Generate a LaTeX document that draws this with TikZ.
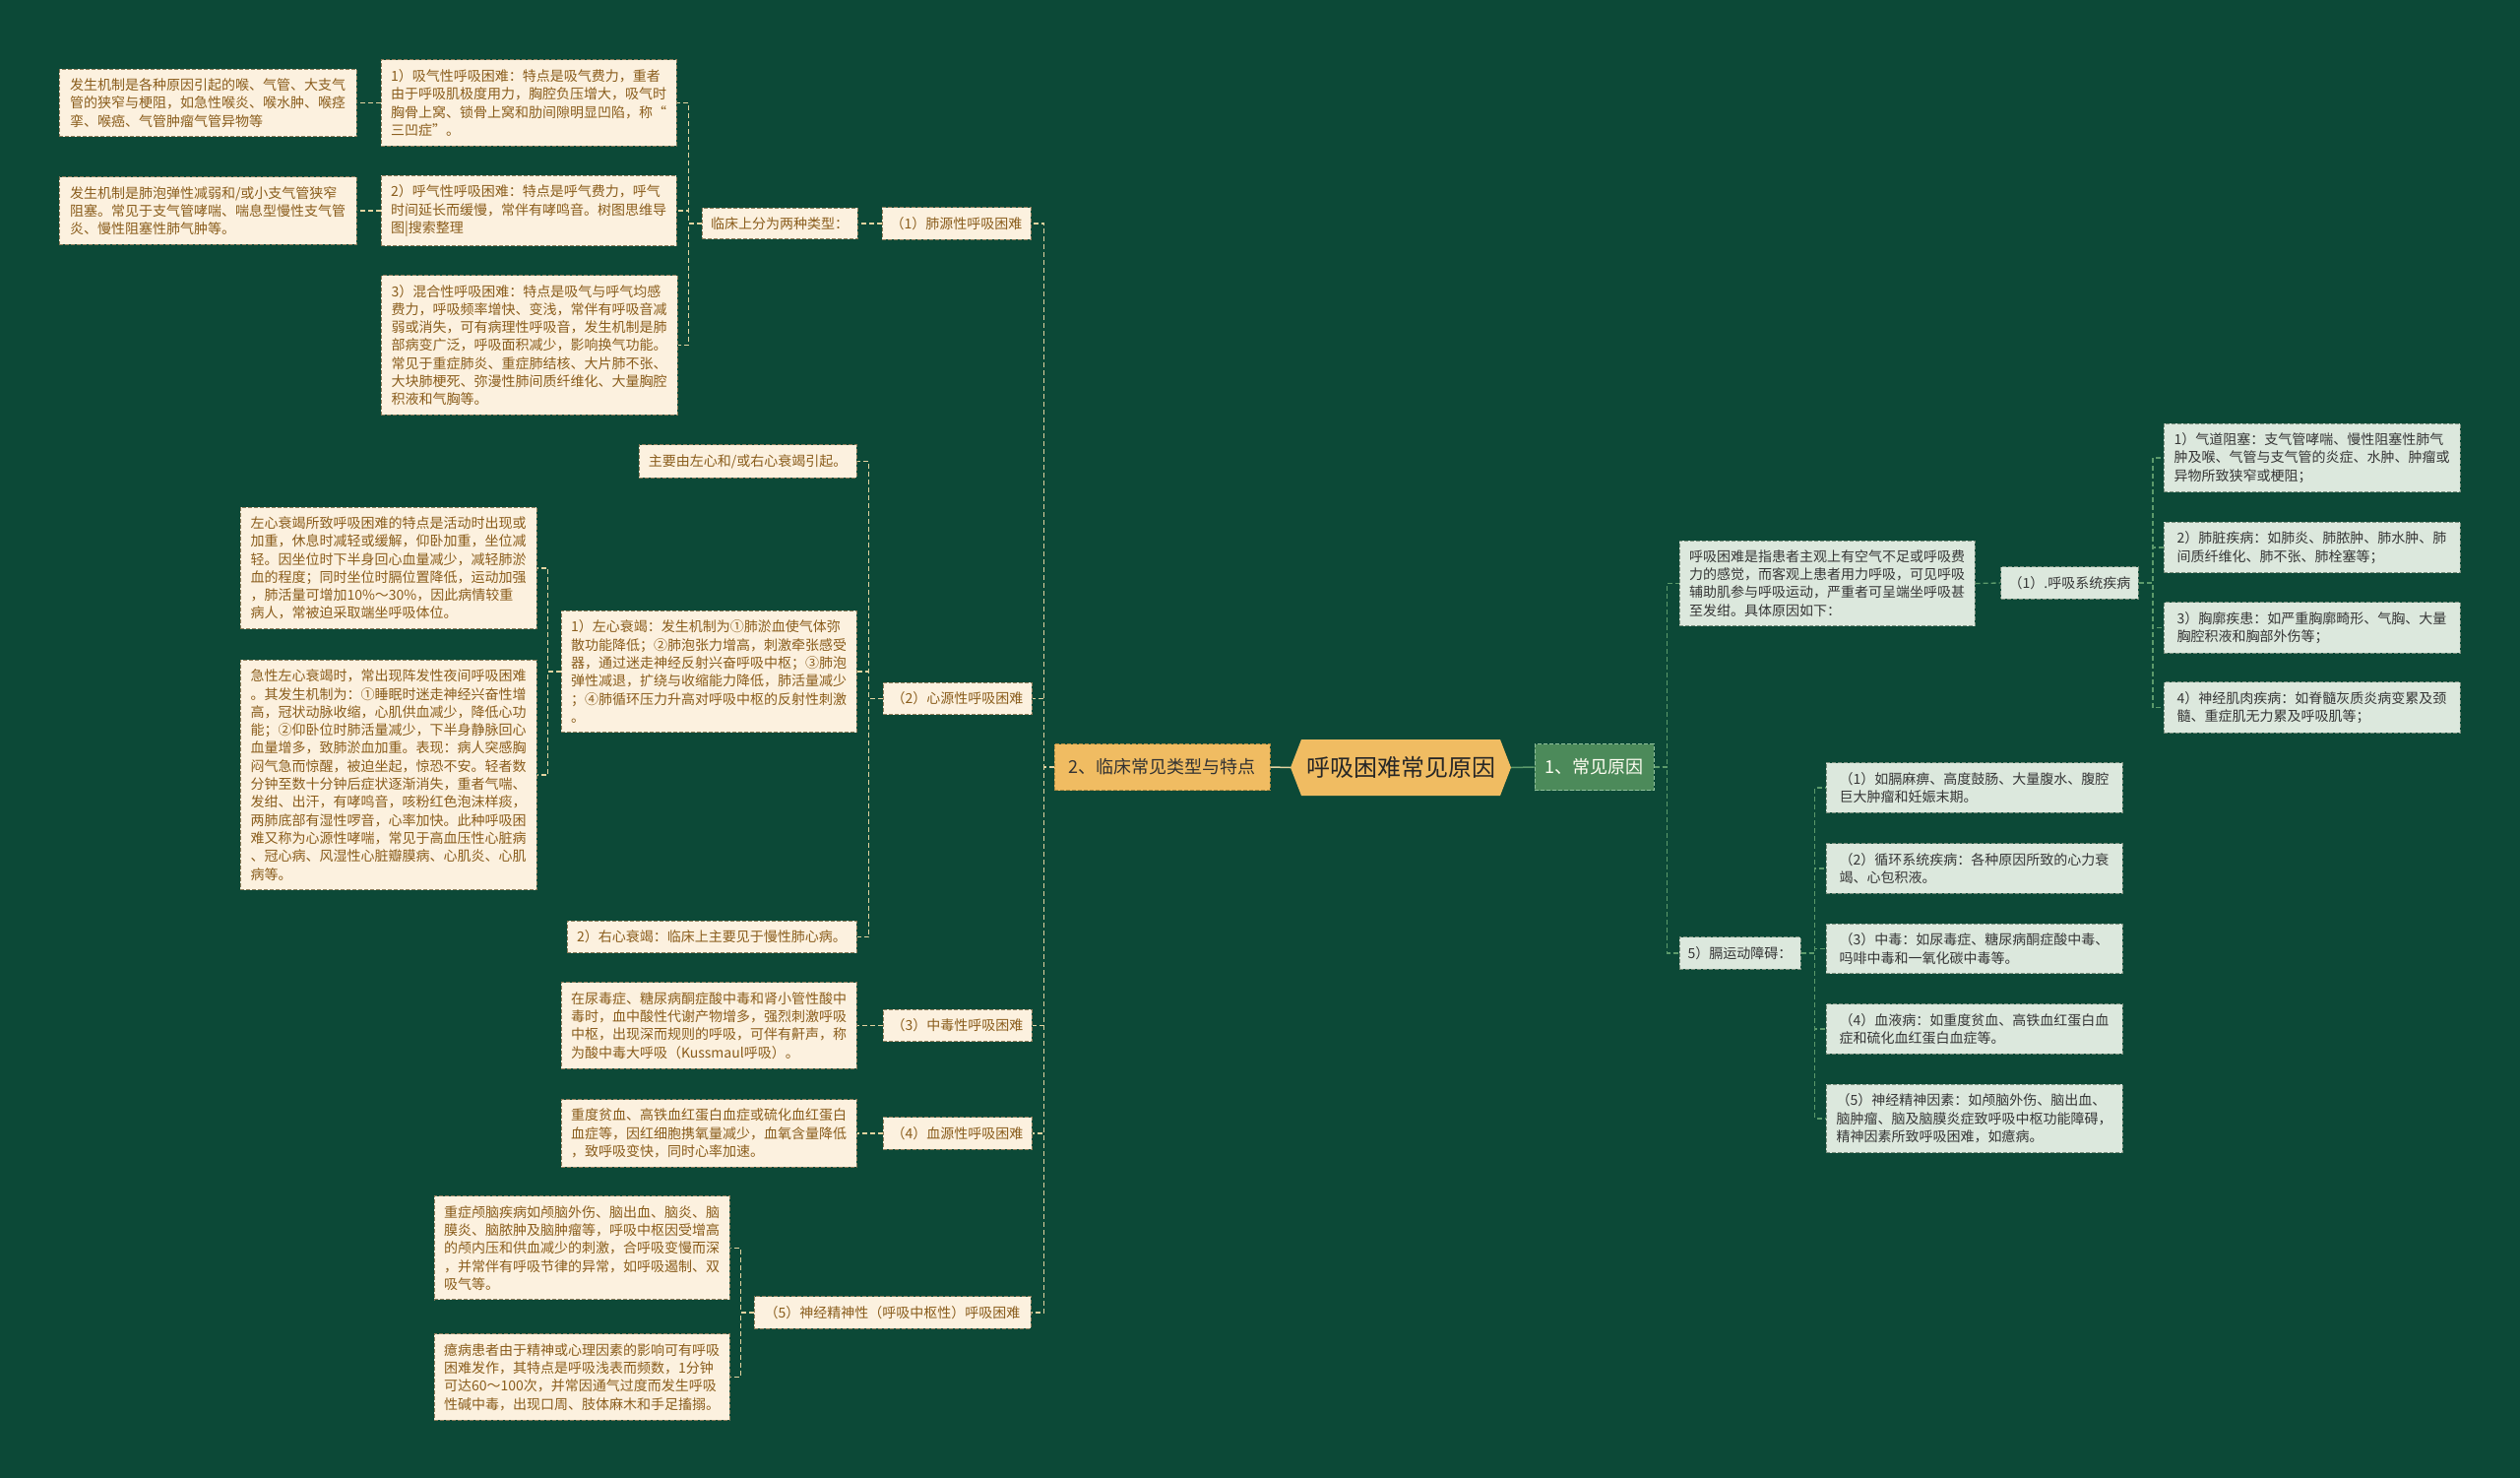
\documentclass[tikz,border=0pt]{standalone}
\usepackage{fontspec}
\setmainfont{Noto Sans CJK SC}
\definecolor{bg}{HTML}{0C4937}
\definecolor{cfill}{HTML}{FCF1DF}
\definecolor{cbord}{HTML}{8C7B5A}
\definecolor{ctext}{HTML}{8A5D1C}
\definecolor{gfill}{HTML}{DCE8DD}
\definecolor{gbord}{HTML}{7A8F7E}
\definecolor{gtext}{HTML}{363636}
\definecolor{lline}{HTML}{E3D3A0}
\definecolor{rline}{HTML}{5C9A6B}
\definecolor{orange}{HTML}{F0BC62}
\definecolor{orbord}{HTML}{B08A40}
\definecolor{dgreen}{HTML}{4C8A5A}
\definecolor{dgbord}{HTML}{8FBF9A}
\tikzset{
 cb/.style={draw=cbord, dash pattern=on 4pt off 2pt, line width=1pt, fill=cfill, text=ctext,
   font=\fontsize{14}{18.3}\selectfont, align=left, inner xsep=8pt, inner ysep=9.5pt},
 gb/.style={draw=gbord, dash pattern=on 4pt off 2pt, line width=1pt, fill=gfill, text=gtext,
   font=\fontsize{14}{18.3}\selectfont, align=left, inner xsep=8pt, inner ysep=9.5pt},
 lc/.style={draw=lline, dash pattern=on 5pt off 3pt, line width=1.3pt},
 rc/.style={draw=rline, dash pattern=on 5pt off 3pt, line width=1.3pt},
}
\begin{document}
\begin{tikzpicture}[x=1pt,y=-1pt]
\fill[bg] (0,0) rectangle (2560,1501);
\useasboundingbox (0,0) rectangle (2560,1501);

% ---------- centre ----------
\fill[orange] (1311,779.5) -- (1322,751) -- (1524,751) -- (1535,779.5) -- (1524,808) -- (1322,808) -- cycle;
\node[minimum width=224pt, minimum height=57pt, inner sep=0pt, text=black!85,
  font=\fontsize{24}{28}\selectfont] (root) at (1423,779.5) {呼吸困难常见原因};
\node[draw=orbord, dash pattern=on 4pt off 2pt, line width=1pt, fill=orange, text=black!80,
  font=\fontsize{18}{22}\selectfont, minimum width=219pt, minimum height=47pt] (nS2) at (1180.5,779) {2、临床常见类型与特点};
\node[draw=dgbord, dash pattern=on 4pt off 2pt, line width=1pt, fill=dgreen, text=white!95!yellow,
  font=\fontsize{18}{22}\selectfont, minimum width=121pt, minimum height=47pt] (nS1) at (1619.5,779) {1、常见原因};

% ---------- left: level 2 ----------
\node[cb, minimum width=151pt] (nT1) at (971.5,227) {（1）肺源性呼吸困难};
\node[cb, minimum width=151pt] (nT2) at (972.5,709.5) {（2）心源性呼吸困难};
\node[cb, minimum width=151pt] (nT3) at (972.5,1041.5) {（3）中毒性呼吸困难};
\node[cb, minimum width=151pt] (nT4) at (972.5,1151) {（4）血源性呼吸困难};
\node[cb, minimum width=281pt] (nT5) at (906.5,1333) {（5）神经精神性（呼吸中枢性）呼吸困难};

% ---------- lung ----------
\node[cb, minimum width=158pt] (nL1) at (792,227) {临床上分为两种类型：};
\node[cb, minimum width=300pt] (nB1) at (537,104.5) {1）吸气性呼吸困难：特点是吸气费力，重者\\由于呼吸肌极度用力，胸腔负压增大，吸气时\\胸骨上窝、锁骨上窝和肋间隙明显凹陷，称“\\三凹症”。};
\node[cb, minimum width=300pt] (nB2) at (537,214) {2）呼气性呼吸困难：特点是呼气费力，呼气\\时间延长而缓慢，常伴有哮鸣音。树图思维导\\图|搜索整理};
\node[cb, minimum width=301pt] (nB3) at (537.5,350.5) {3）混合性呼吸困难：特点是吸气与呼气均感\\费力，呼吸频率增快、变浅，常伴有呼吸音减\\弱或消失，可有病理性呼吸音，发生机制是肺\\部病变广泛，呼吸面积减少，影响换气功能。\\常见于重症肺炎、重症肺结核、大片肺不张、\\大块肺梗死、弥漫性肺间质纤维化、大量胸腔\\积液和气胸等。};
\node[cb, minimum width=302pt] (nA1) at (211,104.5) {发生机制是各种原因引起的喉、气管、大支气\\管的狭窄与梗阻，如急性喉炎、喉水肿、喉痉\\挛、喉癌、气管肿瘤气管异物等};
\node[cb, minimum width=302pt] (nA2) at (211,214) {发生机制是肺泡弹性减弱和/或小支气管狭窄\\阻塞。常见于支气管哮喘、喘息型慢性支气管\\炎、慢性阻塞性肺气肿等。};

% ---------- heart ----------
\node[cb, minimum width=221pt] (nH0) at (759.5,468.5) {主要由左心和/或右心衰竭引起。};
\node[cb, minimum width=300pt] (nH1) at (720,682) {1）左心衰竭：发生机制为①肺淤血使气体弥\\散功能降低；②肺泡张力增高，刺激牵张感受\\器，通过迷走神经反射兴奋呼吸中枢；③肺泡\\弹性减退，扩绕与收缩能力降低，肺活量减少\\；④肺循环压力升高对呼吸中枢的反射性刺激\\。};
\node[cb, minimum width=294pt] (nH2) at (723,951.5) {2）右心衰竭：临床上主要见于慢性肺心病。};
\node[cb, minimum width=301pt] (nH1a) at (394.5,577) {左心衰竭所致呼吸困难的特点是活动时出现或\\加重，休息时减轻或缓解，仰卧加重，坐位减\\轻。因坐位时下半身回心血量减少，减轻肺淤\\血的程度；同时坐位时膈位置降低，运动加强\\，肺活量可增加10\%～30\%，因此病情较重\\病人，常被迫采取端坐呼吸体位。};
\node[cb, minimum width=301pt] (nH1b) at (394.5,787) {急性左心衰竭时，常出现阵发性夜间呼吸困难\\。其发生机制为：①睡眠时迷走神经兴奋性增\\高，冠状动脉收缩，心肌供血减少，降低心功\\能；②仰卧位时肺活量减少，下半身静脉回心\\血量增多，致肺淤血加重。表现：病人突感胸\\闷气急而惊醒，被迫坐起，惊恐不安。轻者数\\分钟至数十分钟后症状逐渐消失，重者气喘、\\发绀、出汗，有哮鸣音，咳粉红色泡沫样痰，\\两肺底部有湿性啰音，心率加快。此种呼吸困\\难又称为心源性哮喘，常见于高血压性心脏病\\、冠心病、风湿性心脏瓣膜病、心肌炎、心肌\\病等。};

% ---------- toxic / blood ----------
\node[cb, minimum width=300pt] (nX1) at (720,1041.5) {在尿毒症、糖尿病酮症酸中毒和肾小管性酸中\\毒时，血中酸性代谢产物增多，强烈刺激呼吸\\中枢，出现深而规则的呼吸，可伴有鼾声，称\\为酸中毒大呼吸（Kussmaul呼吸）。};
\node[cb, minimum width=300pt] (nY1) at (720,1151) {重度贫血、高铁血红蛋白血症或硫化血红蛋白\\血症等，因红细胞携氧量减少，血氧含量降低\\，致呼吸变快，同时心率加速。};

% ---------- neuro ----------
\node[cb, minimum width=300pt] (nN1) at (591,1267.4) {重症颅脑疾病如颅脑外伤、脑出血、脑炎、脑\\膜炎、脑脓肿及脑肿瘤等，呼吸中枢因受增高\\的颅内压和供血减少的刺激，合呼吸变慢而深\\，并常伴有呼吸节律的异常，如呼吸遏制、双\\吸气等。};
\node[cb, minimum width=300pt] (nN2) at (591,1398.6) {癔病患者由于精神或心理因素的影响可有呼吸\\困难发作，其特点是呼吸浅表而频数，1分钟\\可达60～100次，并常因通气过度而发生呼吸\\性碱中毒，出现口周、肢体麻木和手足搐搦。};

% ---------- right ----------
\node[gb, minimum width=300pt] (nD) at (1856,592.5) {呼吸困难是指患者主观上有空气不足或呼吸费\\力的感觉，而客观上患者用力呼吸，可见呼吸\\辅助肌参与呼吸运动，严重者可呈端坐呼吸甚\\至发绀。具体原因如下：};
\node[gb, minimum width=139pt] (nR1) at (2102.5,592) {（1）.呼吸系统疾病};
\node[gb, minimum width=301pt] (nRa) at (2348.5,465) {1）气道阻塞：支气管哮喘、慢性阻塞性肺气\\肿及喉、气管与支气管的炎症、水肿、肿瘤或\\异物所致狭窄或梗阻；};
\node[gb, minimum width=301pt] (nRb) at (2348.5,556) {2）肺脏疾病：如肺炎、肺脓肿、肺水肿、肺\\间质纤维化、肺不张、肺栓塞等；};
\node[gb, minimum width=301pt] (nRc) at (2348.5,637.5) {3）胸廓疾患：如严重胸廓畸形、气胸、大量\\胸腔积液和胸部外伤等；};
\node[gb, minimum width=301pt] (nRd) at (2348.5,718.5) {4）神经肌肉疾病：如脊髓灰质炎病变累及颈\\髓、重症肌无力累及呼吸肌等；};
\node[gb, minimum width=123pt] (nR5) at (1767.5,968) {5）膈运动障碍：};
\node[gb, minimum width=301pt] (nQa) at (2005.5,800) {（1）如膈麻痹、高度鼓肠、大量腹水、腹腔\\巨大肿瘤和妊娠末期。};
\node[gb, minimum width=301pt] (nQb) at (2005.5,882) {（2）循环系统疾病：各种原因所致的心力衰\\竭、心包积液。};
\node[gb, minimum width=301pt] (nQc) at (2005.5,963.5) {（3）中毒：如尿毒症、糖尿病酮症酸中毒、\\吗啡中毒和一氧化碳中毒等。};
\node[gb, minimum width=301pt] (nQd) at (2005.5,1045) {（4）血液病：如重度贫血、高铁血红蛋白血\\症和硫化血红蛋白血症等。};
\node[gb, minimum width=301pt] (nQe) at (2005.5,1136) {（5）神经精神因素：如颅脑外伤、脑出血、\\脑肿瘤、脑及脑膜炎症致呼吸中枢功能障碍，\\精神因素所致呼吸困难，如癔病。};

% ---------- connectors ----------
\draw[lline, line width=1.5pt] (root.west) -- (nS2.east);
\draw[rline, line width=1.5pt] (root.east) -- (nS1.west);

\foreach \c in {nT1,nT2,nT3,nT4,nT5}
  \draw[lc] (nS2.west) -- ++(-10,0) |- (\c.east);
\draw[lc] (nT1.west) -- (nL1.east);
\foreach \c in {nB1,nB2,nB3}
  \draw[lc] (nL1.west) -- ++(-13,0) |- (\c.east);
\draw[lc] (nB1.west) -- (nA1.east);
\draw[lc] (nB2.west) -- (nA2.east);
\foreach \c in {nH0,nH1,nH2}
  \draw[lc] (nT2.west) -- ++(-14,0) |- (\c.east);
\foreach \c in {nH1a,nH1b}
  \draw[lc] (nH1.west) -- ++(-13,0) |- (\c.east);
\draw[lc] (nT3.west) -- (nX1.east);
\draw[lc] (nT4.west) -- (nY1.east);
\foreach \c in {nN1,nN2}
  \draw[lc] (nT5.west) -- ++(-13,0) |- (\c.east);

\foreach \c in {nD,nR5}
  \draw[rc] (nS1.east) -- ++(13,0) |- (\c.west);
\draw[rc] (nD.east) -- (nR1.west);
\foreach \c in {nRa,nRb,nRc,nRd}
  \draw[rc] (nR1.east) -- ++(14,0) |- (\c.west);
\foreach \c in {nQa,nQb,nQc,nQd,nQe}
  \draw[rc] (nR5.east) -- ++(14,0) |- (\c.west);
\end{tikzpicture}
\end{document}
